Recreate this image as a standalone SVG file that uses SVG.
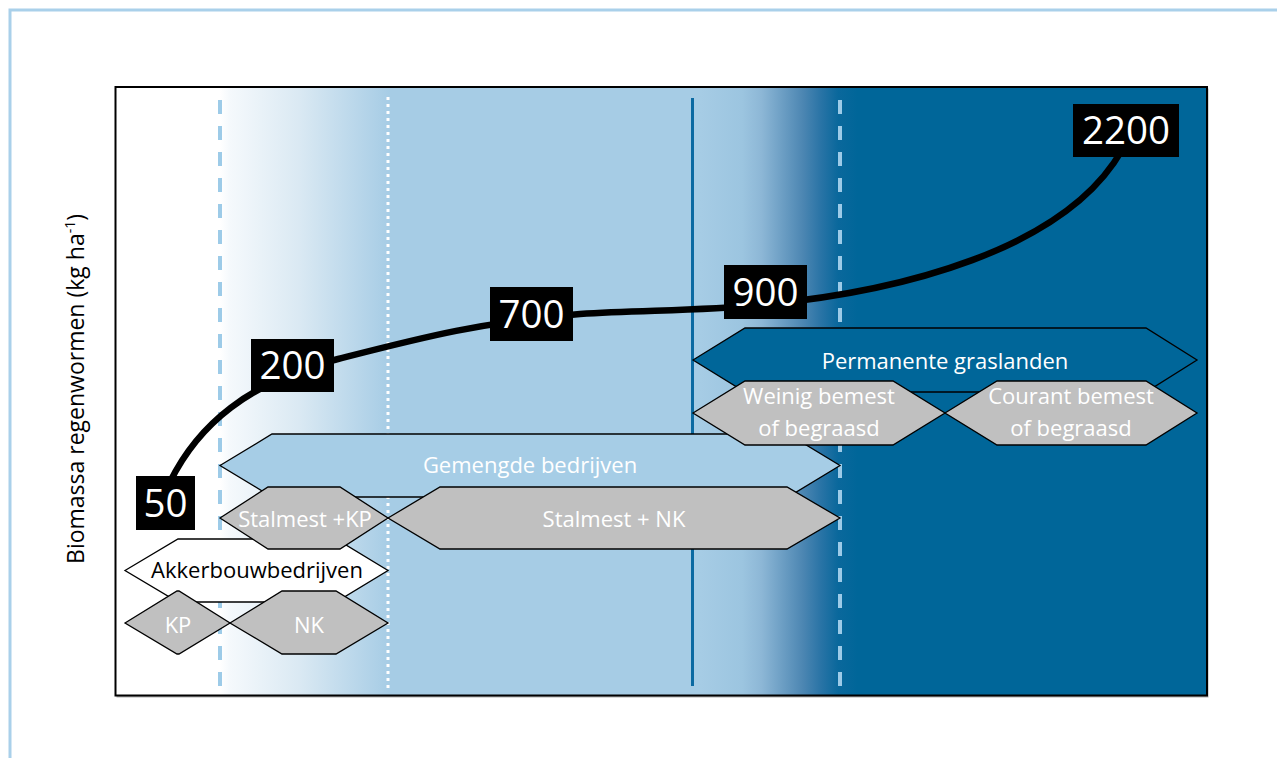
<svg xmlns="http://www.w3.org/2000/svg" width="1277" height="758" viewBox="0 0 1277 758">
  <defs>
    <linearGradient id="bg" gradientUnits="userSpaceOnUse" x1="115" y1="0" x2="1207" y2="0">
      <stop offset="0" stop-color="#ffffff"/>
      <stop offset="0.0962" stop-color="#ffffff"/>
      <stop offset="0.105" stop-color="#f5f9fc"/>
      <stop offset="0.169" stop-color="#dae9f3"/>
      <stop offset="0.252" stop-color="#a6cce5"/>
      <stop offset="0.536" stop-color="#a6cce5"/>
      <stop offset="0.574" stop-color="#9cc5e0"/>
      <stop offset="0.592" stop-color="#8db7d6"/>
      <stop offset="0.630" stop-color="#4c86b2"/>
      <stop offset="0.646" stop-color="#2a74a6"/>
      <stop offset="0.662" stop-color="#0a689c"/>
      <stop offset="0.680" stop-color="#006699"/>
      <stop offset="1" stop-color="#006699"/>
    </linearGradient>
    <style>
      .hex { stroke: #000000; stroke-width: 1.3; stroke-linejoin: miter; }
      .gray { fill: #c0c0c0; }
      .lt { font-family: "Open Sans", "Liberation Sans", sans-serif; font-size: 22px; text-anchor: middle; fill: #ffffff; }
      .dk { fill: #000000; }
      .num { font-family: "Open Sans", "Liberation Sans", sans-serif; font-size: 38.5px; text-anchor: middle; fill: #ffffff; }
      .dash { stroke: #9dcbe8; stroke-width: 4; stroke-dasharray: 14 12; fill: none; }
    </style>
  </defs>

  <!-- outer frame -->
  <rect x="10" y="10" width="1290" height="770" fill="#ffffff" stroke="#a9d0ea" stroke-width="3"/>

  <!-- plot area -->
  <g id="plot">
    <rect x="116.5" y="88.5" width="1092" height="609" fill="#b0b0b0"/>
    <rect x="115.5" y="87" width="1091.5" height="608.5" fill="url(#bg)" stroke="#000000" stroke-width="2"/>
  </g>

  <!-- axis label -->
  <text id="ylabel" transform="translate(84,389) rotate(-90)" font-family="'Open Sans', 'Liberation Sans', sans-serif" font-size="23" text-anchor="middle" fill="#000000">Biomassa regenwormen (kg ha<tspan font-size="14" dy="-9">-1</tspan><tspan dy="9">)</tspan></text>

  <!-- vertical separators -->
  <g id="separators">
    <line class="dash" x1="220" y1="100" x2="220" y2="690"/>
    <line x1="388" y1="97" x2="388" y2="690" stroke="#ffffff" stroke-width="3" stroke-dasharray="3 4"/>
    <line x1="692.5" y1="98" x2="692.5" y2="686" stroke="#0b6aa2" stroke-width="3"/>
    <line class="dash" x1="840" y1="100" x2="840" y2="690" stroke="#93c4e3"/>
  </g>

  <!-- groups (hexagons) -->
  <g id="akkerbouw">
    <path class="hex" fill="#ffffff" d="M125,570.5 L178,539 L336,539 L388,570.5 L336,602 L178,602 Z"/>
    <text class="lt dk" x="257" y="578">Akkerbouwbedrijven</text>
  </g>
  <g id="kp">
    <path class="hex gray" d="M125,623 L177,591 L179,591 L230,623 L179,654 L177,654 Z"/>
    <text class="lt" x="178" y="633">KP</text>
  </g>
  <g id="nk">
    <path class="hex gray" d="M230,623 L282,591 L336,591 L388,623 L336,654 L282,654 Z"/>
    <text class="lt" x="309" y="633">NK</text>
  </g>
  <g id="gemengde">
    <path class="hex" fill="#a6cde6" d="M220,465.5 L272,434 L788,434 L840,465.5 L788,497 L272,497 Z"/>
    <text class="lt" x="530" y="473">Gemengde bedrijven</text>
  </g>
  <g id="stalmest-kp">
    <path class="hex gray" d="M220,518 L268,487 L340,487 L388,518 L340,549 L268,549 Z"/>
    <text class="lt" x="305" y="527">Stalmest +KP</text>
  </g>
  <g id="stalmest-nk">
    <path class="hex gray" d="M388,518 L440,487 L787,487 L840,518 L787,549 L440,549 Z"/>
    <text class="lt" x="614" y="527">Stalmest + NK</text>
  </g>
  <g id="permanente">
    <path class="hex" fill="#006699" d="M693,360 L745,328 L1146,328 L1197,360 L1146,392 L745,392 Z"/>
    <text class="lt" x="945" y="369">Permanente graslanden</text>
  </g>
  <g id="weinig">
    <path class="hex gray" d="M693,413 L745,381 L893,381 L945,413 L893,445 L745,445 Z"/>
    <text class="lt" x="819" y="404">Weinig bemest</text>
    <text class="lt" x="819" y="436">of begraasd</text>
  </g>
  <g id="courant">
    <path class="hex gray" d="M945,413 L997,381 L1146,381 L1197,413 L1146,445 L997,445 Z"/>
    <text class="lt" x="1071" y="404">Courant bemest</text>
    <text class="lt" x="1071" y="436">of begraasd</text>
  </g>

  <!-- connector: biomass curve -->
  <g id="connectors">
    <path d="M170,482 C198,425 248,382 338,359 C420,338 480,322 580,314 C640,310 700,311 760,305 C900,292 1065,250 1122,150" fill="none" stroke="#000000" stroke-width="6.5"/>
  </g>

  <!-- value labels -->
  <g id="v50">
    <rect x="136" y="476" width="59" height="54" fill="#000000"/>
    <text class="num" x="165.5" y="516.5">50</text>
  </g>
  <g id="v200">
    <rect x="251" y="339" width="83" height="53" fill="#000000"/>
    <text class="num" x="292.5" y="379">200</text>
  </g>
  <g id="v700">
    <rect x="490" y="287" width="83" height="54" fill="#000000"/>
    <text class="num" x="531.5" y="327.5">700</text>
  </g>
  <g id="v900">
    <rect x="724" y="265" width="83" height="54" fill="#000000"/>
    <text class="num" x="765.5" y="305.5">900</text>
  </g>
  <g id="v2200">
    <rect x="1073" y="104" width="106" height="53" fill="#000000"/>
    <text class="num" x="1126" y="144">2200</text>
  </g>
</svg>
